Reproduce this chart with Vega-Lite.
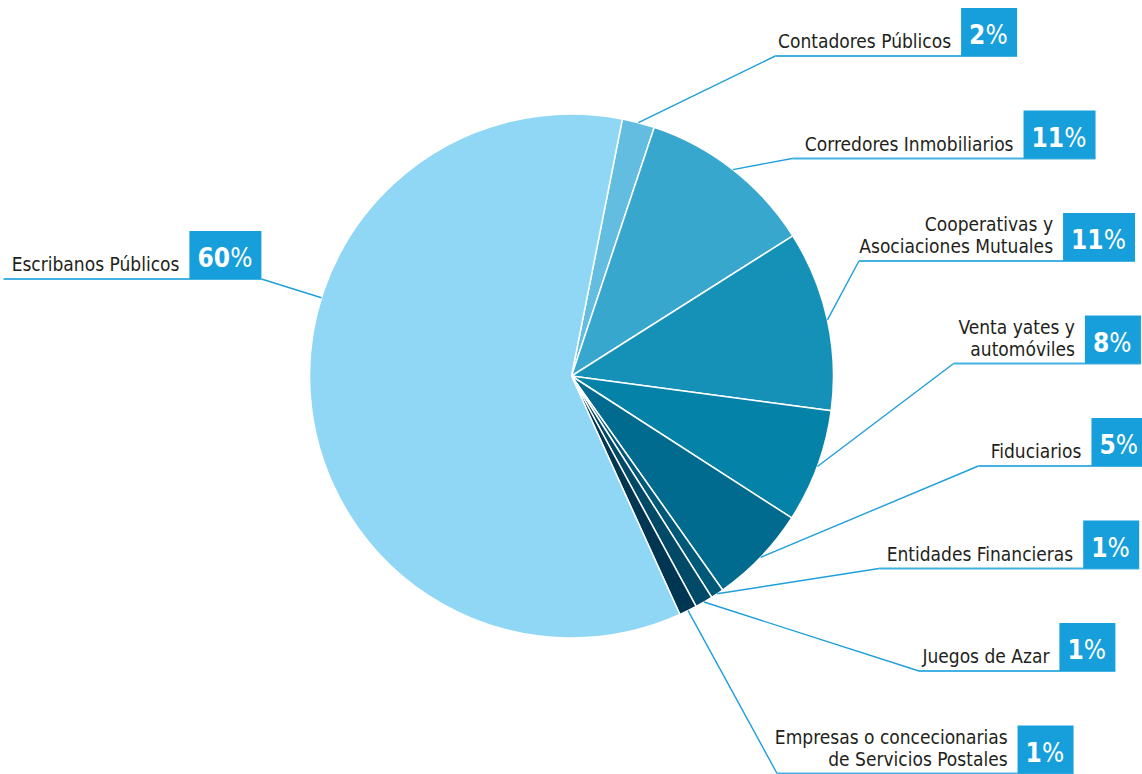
{
  "$schema": "https://vega.github.io/schema/vega-lite/v6.json",
  "width": 1142,
  "height": 774,
  "padding": 0,
  "autosize": {"type": "none"},
  "background": "white",
  "config": {"view": {"stroke": null}},
  "data": {
    "values": [
      {"order": 1, "sector": "Contadores Públicos", "value": 2.0, "pct": 2},
      {"order": 2, "sector": "Corredores Inmobiliarios", "value": 10.9, "pct": 11},
      {"order": 3, "sector": "Cooperativas y\nAsociaciones Mutuales", "value": 11.1, "pct": 11},
      {"order": 4, "sector": "Venta yates y\nautomóviles", "value": 7.0, "pct": 8},
      {"order": 5, "sector": "Fiduciarios", "value": 6.1, "pct": 5},
      {"order": 6, "sector": "Entidades Financieras", "value": 0.8, "pct": 1},
      {"order": 7, "sector": "Juegos de Azar", "value": 1.1, "pct": 1},
      {"order": 8, "sector": "Empresas o concecionarias\nde Servicios Postales", "value": 1.1, "pct": 1},
      {"order": 9, "sector": "Escribanos Públicos", "value": 59.9, "pct": 60}
    ]
  },
  "transform": [
    {"joinaggregate": [{"op": "sum", "field": "value", "as": "total"}]},
    {"window": [{"op": "sum", "field": "value", "as": "cum"}], "sort": [{"field": "order"}], "frame": [null, 0]},
    {"calculate": "0.1955 + 2*PI*(datum.cum - datum.value/2)/datum.total", "as": "ang"},
    {"calculate": "262*sin(datum.ang) >= 0 ? 'R' : 'L'", "as": "side"},
    {"window": [{"op": "row_number", "as": "slot"}], "groupby": ["side"], "sort": [{"field": "order"}]},
    {"calculate": "datum.side == 'R' ? 320 - 102.5*(datum.slot - 1) : 97", "as": "ly"},
    {"calculate": "length(split(datum.sector, '\\n'))", "as": "nlines"},
    {"calculate": "datum.pct >= 10 ? 72 : 56", "as": "bw"},
    {"calculate": "9.1*max(length(split(datum.sector, '\\n')[0]), length(peek(split(datum.sector, '\\n'))))", "as": "tw"},
    {"calculate": "datum.side == 'R' ? 520*sqrt(1 - pow((datum.ly + 84)/610, 2)) : -566 + datum.tw + 11", "as": "bl"},
    {"calculate": "datum.bl + datum.bw", "as": "br"},
    {"calculate": "datum.ly + 48", "as": "btop"},
    {"calculate": "datum.bl - 10", "as": "tx"},
    {"calculate": "datum.tx - datum.tw - 3", "as": "ul"},
    {"calculate": "datum.side == 'R' ? datum.ul : datum.br", "as": "elbow"},
    {"calculate": "datum.side == 'R' ? datum.ang : atan2(datum.elbow, datum.ly)", "as": "sang"},
    {"calculate": "262*sin(datum.sang)", "as": "sx"},
    {"calculate": "262*cos(datum.sang)", "as": "sy"},
    {"calculate": "datum.ly + 8 + 22*(datum.nlines - 1)", "as": "ty"},
    {"calculate": "datum.ly + 12", "as": "pty"},
    {"calculate": "datum.bl + 8", "as": "nx"},
    {"calculate": "datum.bl + 8 + 16.4*(datum.pct >= 10 ? 2 : 1)", "as": "px"}
  ],
  "layer": [
    {
      "mark": {"type": "arc", "outerRadius": 262, "stroke": "white", "strokeWidth": 1.5},
      "encoding": {
        "theta": {"field": "value", "type": "quantitative", "stack": true, "scale": {"range": [0.1955, 6.4787]}},
        "order": {"field": "order", "type": "quantitative"},
        "color": {"field": "order", "type": "ordinal", "legend": null,
          "scale": {"range": ["#63bde0", "#38a7ce", "#1591b8", "#0582a8", "#006b8f", "#005878", "#004a68", "#003652", "#8fd7f5"]}},
        "x": {"datum": 0, "type": "quantitative", "axis": null, "scale": {"domain": [-571.5, 570.5], "nice": false, "zero": false}},
        "y": {"datum": 0, "type": "quantitative", "axis": null, "scale": {"domain": [-398, 376], "nice": false, "zero": false}}
      }
    },
    {
      "mark": {"type": "rule", "color": "#1e9fdc", "strokeWidth": 1.4},
      "encoding": {
        "x": {"field": "sx", "type": "quantitative"},
        "y": {"field": "sy", "type": "quantitative"},
        "x2": {"field": "elbow"},
        "y2": {"field": "ly"}
      }
    },
    {
      "mark": {"type": "rule", "color": "#45b1e2", "strokeWidth": 2},
      "encoding": {
        "x": {"field": "ul", "type": "quantitative"},
        "x2": {"field": "br"},
        "y": {"field": "ly", "type": "quantitative"}
      }
    },
    {
      "mark": {"type": "rect", "color": "#169fdb"},
      "encoding": {
        "x": {"field": "bl", "type": "quantitative"},
        "x2": {"field": "br"},
        "y": {"field": "ly", "type": "quantitative"},
        "y2": {"field": "btop"}
      }
    },
    {
      "mark": {"type": "text", "align": "right", "baseline": "alphabetic", "lineBreak": "\n", "lineHeight": 22, "font": "DejaVu Sans Condensed, sans-serif", "fontSize": 19, "color": "#231f20"},
      "encoding": {
        "x": {"field": "tx", "type": "quantitative"},
        "y": {"field": "ty", "type": "quantitative"},
        "text": {"field": "sector"}
      }
    },
    {
      "mark": {"type": "text", "align": "left", "baseline": "alphabetic", "font": "DejaVu Sans Condensed, sans-serif", "fontSize": 26, "fontWeight": "bold", "color": "white"},
      "encoding": {
        "x": {"field": "nx", "type": "quantitative"},
        "y": {"field": "pty", "type": "quantitative"},
        "text": {"field": "pct"}
      }
    },
    {
      "mark": {"type": "text", "align": "left", "baseline": "alphabetic", "font": "DejaVu Sans Condensed, sans-serif", "fontSize": 26, "color": "white"},
      "encoding": {
        "x": {"field": "px", "type": "quantitative"},
        "y": {"field": "pty", "type": "quantitative"},
        "text": {"value": "%"}
      }
    }
  ]
}
